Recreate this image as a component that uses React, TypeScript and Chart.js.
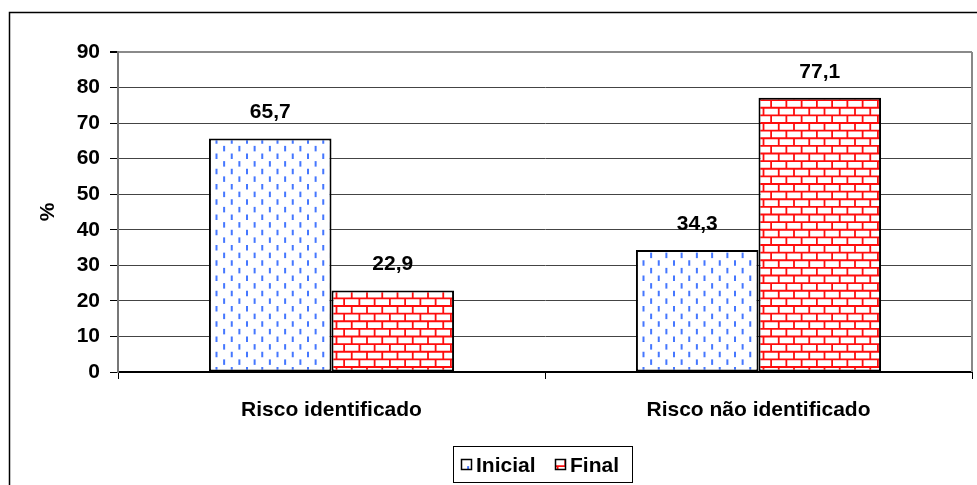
import { useEffect, useRef } from "react";
import { Chart, registerables } from "chart.js";

Chart.register(...registerables);

// ---- data ----
const categories = ["Risco identificado", "Risco não identificado"];
const seriesNames = ["Inicial", "Final"];
const inicialValues = [65.7, 34.3];
const finalValues = [22.9, 77.1];
const yMin = 0;
const yMax = 90;
const yStep = 10;

const FONT = "'Liberation Sans', Arial, sans-serif";

function makeDashPattern(ctx: CanvasRenderingContext2D): CanvasPattern | string {
  const size = 61;
  const c = document.createElement("canvas");
  c.width = size;
  c.height = size;
  const g = c.getContext("2d");
  if (!g) return "#fff";
  g.fillStyle = "#ffffff";
  g.fillRect(0, 0, size, size);
  g.fillStyle = "#4577ff";
  const s = size / 4;
  for (let r = 0; r < 4; r++) {
    for (let k = 0; k < 4; k++) {
      const x0 = k * s;
      const y0 = r * s;
      g.fillRect(x0 + 2, y0 + 1, 2, 5.5);
      g.fillRect(x0 + 2 + s / 2, y0 + 1 + s / 2, 2, 5.5);
    }
  }
  return ctx.createPattern(c, "repeat") || "#fff";
}

function makeBrickPattern(ctx: CanvasRenderingContext2D): CanvasPattern | string {
  const size = 61;
  const c = document.createElement("canvas");
  c.width = size;
  c.height = size;
  const g = c.getContext("2d");
  if (!g) return "#fff";
  g.fillStyle = "#ffffff";
  g.fillRect(0, 0, size, size);
  g.strokeStyle = "#ff0d0d";
  g.lineWidth = 1.8;
  const w = size / 4;
  const h = size / 8;
  for (let r = 0; r < 8; r++) {
    const y = r * h + 1;
    g.beginPath();
    g.moveTo(0, y);
    g.lineTo(size, y);
    g.stroke();
    const off = (r % 2) * (w / 2);
    for (let k = -1; k <= 4; k++) {
      const x = k * w + off + 1;
      g.beginPath();
      g.moveTo(x, y);
      g.lineTo(x, y + h);
      g.stroke();
    }
  }
  return ctx.createPattern(c, "repeat") || "#fff";
}

const fmt = (v: number) => v.toFixed(1).replace(".", ",");

export default function App() {
  const canvasRef = useRef<HTMLCanvasElement | null>(null);

  useEffect(() => {
    const canvas = canvasRef.current;
    if (!canvas) return;
    const ctx = canvas.getContext("2d");
    if (!ctx) return;

    const dash = makeDashPattern(ctx);
    const brick = makeBrickPattern(ctx);
    const fills = [dash, brick];

    const decorations = {
      id: "decorations",
      beforeDraw(chart: any) {
        const c = chart.ctx;
        c.save();
        c.fillStyle = "#fff";
        c.fillRect(0, 0, chart.width, chart.height);
        // outer frame
        c.strokeStyle = "#000";
        c.lineWidth = 1.5;
        c.beginPath();
        c.moveTo(9.5, chart.height + 2);
        c.lineTo(9.5, 12.5);
        c.lineTo(chart.width + 2, 12.5);
        c.stroke();
        c.restore();
      },
      afterDraw(chart: any) {
        const c = chart.ctx;
        const area = chart.chartArea;
        c.save();
        // right edge of plot area
        c.strokeStyle = "#888";
        c.lineWidth = 2;
        c.beginPath();
        c.moveTo(area.right, area.top);
        c.lineTo(area.right, area.bottom);
        c.stroke();

        // value labels
        c.fillStyle = "#000";
        c.font = `bold 21px ${FONT}`;
        c.textAlign = "center";
        c.textBaseline = "middle";
        chart.data.datasets.forEach((ds: any, i: number) => {
          const meta = chart.getDatasetMeta(i);
          meta.data.forEach((bar: any, j: number) => {
            c.fillText(fmt(ds.data[j]), bar.x, bar.y - 26);
          });
        });

        // legend
        const lx = 453.5;
        const ly = 446.5;
        c.strokeStyle = "#000";
        c.lineWidth = 1;
        c.strokeRect(lx, ly, 179, 36);
        c.font = `bold 21px ${FONT}`;
        c.textAlign = "left";
        c.textBaseline = "middle";
        const items = [
          { mx: 461, tx: 476 },
          { mx: 555, tx: 570 },
        ];
        items.forEach((it, i) => {
          c.fillStyle = fills[i] as any;
          c.fillRect(it.mx, 459, 11, 11);
          c.strokeStyle = "#000";
          c.lineWidth = 1.5;
          c.strokeRect(it.mx + 0.5, 459.5, 10, 10);
          c.fillStyle = "#000";
          c.fillText(seriesNames[i], it.tx, 466);
        });
        c.restore();
      },
    };

    const chart = new Chart(canvas, {
      type: "bar",
      data: {
        labels: categories,
        datasets: [
          {
            label: seriesNames[0],
            data: inicialValues,
            backgroundColor: dash as any,
            borderColor: "#000",
            borderWidth: 2,
            borderSkipped: false,
          },
          {
            label: seriesNames[1],
            data: finalValues,
            backgroundColor: brick as any,
            borderColor: "#000",
            borderWidth: 2,
            borderSkipped: false,
          },
        ],
      },
      options: {
        responsive: false,
        animation: false,
        devicePixelRatio: 1,
        layout: { padding: { left: 0, right: 5, top: 52, bottom: 0 } },
        datasets: {
          bar: { categoryPercentage: 0.574, barPercentage: 1 },
        },
        plugins: {
          legend: { display: false },
          tooltip: { enabled: false },
        },
        scales: {
          x: {
            afterFit: (scale: any) => {
              scale.height = 113;
            },
            grid: {
              display: true,
              drawOnChartArea: false,
              drawTicks: true,
              tickLength: 7,
              tickColor: "#000",
              offset: true,
            },
            border: { display: true, color: "#000", width: 2 },
            ticks: {
              color: "#000",
              padding: 19,
              maxRotation: 0,
              font: { family: FONT, size: 21, weight: "bold" },
            },
          },
          y: {
            min: yMin,
            max: yMax,
            afterFit: (scale: any) => {
              scale.width = 118;
            },
            grid: {
              color: (c: any) => (c.tick && c.tick.value === yMax ? "#8a8a8a" : "#444"),
              lineWidth: (c: any) => (c.tick && c.tick.value === yMax ? 2 : 1),
              tickColor: "#000",
              tickLength: 8,
            },
            border: { display: true, color: "#777", width: 2 },
            ticks: {
              stepSize: yStep,
              color: "#000",
              padding: 10,
              font: { family: FONT, size: 21, weight: "bold" },
            },
            title: {
              display: true,
              text: "%",
              color: "#000",
              font: { family: FONT, size: 21, weight: "bold" },
              padding: { top: 36, bottom: 0 },
            },
          },
        },
      },
      plugins: [decorations],
    } as any);

    return () => chart.destroy();
  }, []);

  return (
    <div style={{ position: "absolute", left: 0, top: 0, width: 977, height: 485 }}>
      <canvas ref={canvasRef} width={977} height={485} style={{ display: "block" }} />
    </div>
  );
}
